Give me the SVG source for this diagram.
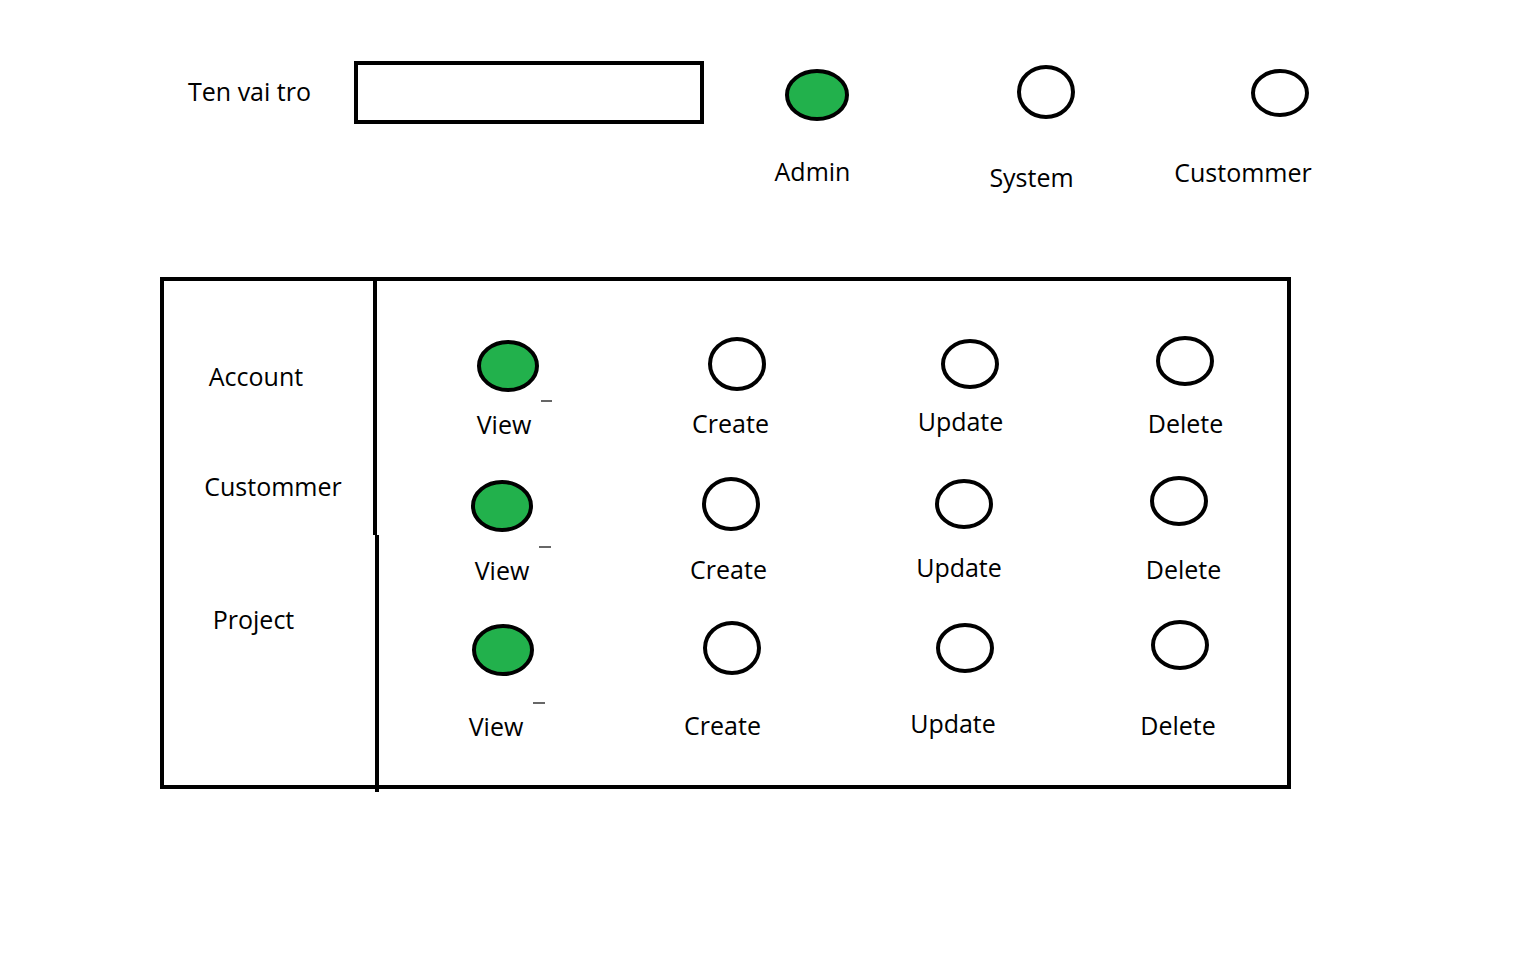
<svg xmlns="http://www.w3.org/2000/svg" width="1536" height="960" viewBox="0 0 1536 960">
<style>
.t{font-family:"Open Sans","Liberation Sans",sans-serif;font-size:25px;fill:#000;text-anchor:middle}
.o{fill:#fff;stroke:#000;stroke-width:4}
.g{fill:#22b14c;stroke:#000;stroke-width:4}
.b{fill:none;stroke:#000;stroke-width:4}
.d{stroke:#000;stroke-width:1.2}
</style>
<rect width="1536" height="960" fill="#fff"/>
<g id="header">
<text class="t" x="249.5" y="101">Ten vai tro</text>
<rect id="name-input" class="b" x="356" y="63" width="346" height="59"/>
</g>
<g id="role-admin"><ellipse class="g" cx="817" cy="95" rx="30" ry="24"/><text class="t" x="812.5" y="181">Admin</text></g>
<g id="role-system"><ellipse class="o" cx="1046" cy="92" rx="27" ry="25"/><text class="t" x="1031.5" y="187">System</text></g>
<g id="role-customer"><ellipse class="o" cx="1280" cy="93" rx="27" ry="22"/><text class="t" x="1243" y="182">Custommer</text></g>
<g id="table">
<rect class="b" x="162" y="279" width="1127" height="508"/>
<line class="b" x1="375" y1="281" x2="375" y2="535"/>
<line class="b" x1="377" y1="535" x2="377" y2="792"/>
</g>
<g id="labels">
<text class="t" x="256" y="386">Account</text>
<text class="t" x="273" y="496">Custommer</text>
<text class="t" x="253.5" y="629">Project</text>
</g>
<g id="row-account">
<ellipse class="g" cx="508" cy="366" rx="29" ry="24"/><line class="d" x1="541" y1="401" x2="552" y2="401"/><text class="t" x="504" y="434">View</text>
<ellipse class="o" cx="737" cy="364" rx="27" ry="25"/><text class="t" x="730.5" y="433">Create</text>
<ellipse class="o" cx="970" cy="364" rx="27" ry="23"/><text class="t" x="960.5" y="431">Update</text>
<ellipse class="o" cx="1185" cy="361" rx="27" ry="23"/><text class="t" x="1185.5" y="433">Delete</text>
</g>
<g id="row-customer">
<ellipse class="g" cx="502" cy="506" rx="29" ry="24"/><line class="d" x1="539" y1="547" x2="551" y2="547"/><text class="t" x="502" y="580">View</text>
<ellipse class="o" cx="731" cy="504" rx="27" ry="25"/><text class="t" x="728.5" y="579">Create</text>
<ellipse class="o" cx="964" cy="504" rx="27" ry="23"/><text class="t" x="959" y="577">Update</text>
<ellipse class="o" cx="1179" cy="501" rx="27" ry="23"/><text class="t" x="1183.5" y="579">Delete</text>
</g>
<g id="row-project">
<ellipse class="g" cx="503" cy="650" rx="29" ry="24"/><line class="d" x1="533" y1="703" x2="545" y2="703"/><text class="t" x="496" y="736">View</text>
<ellipse class="o" cx="732" cy="648" rx="27" ry="25"/><text class="t" x="722.5" y="735">Create</text>
<ellipse class="o" cx="965" cy="648" rx="27" ry="23"/><text class="t" x="953" y="733">Update</text>
<ellipse class="o" cx="1180" cy="645" rx="27" ry="23"/><text class="t" x="1178" y="735">Delete</text>
</g>
<g id="connectors"></g>
</svg>
